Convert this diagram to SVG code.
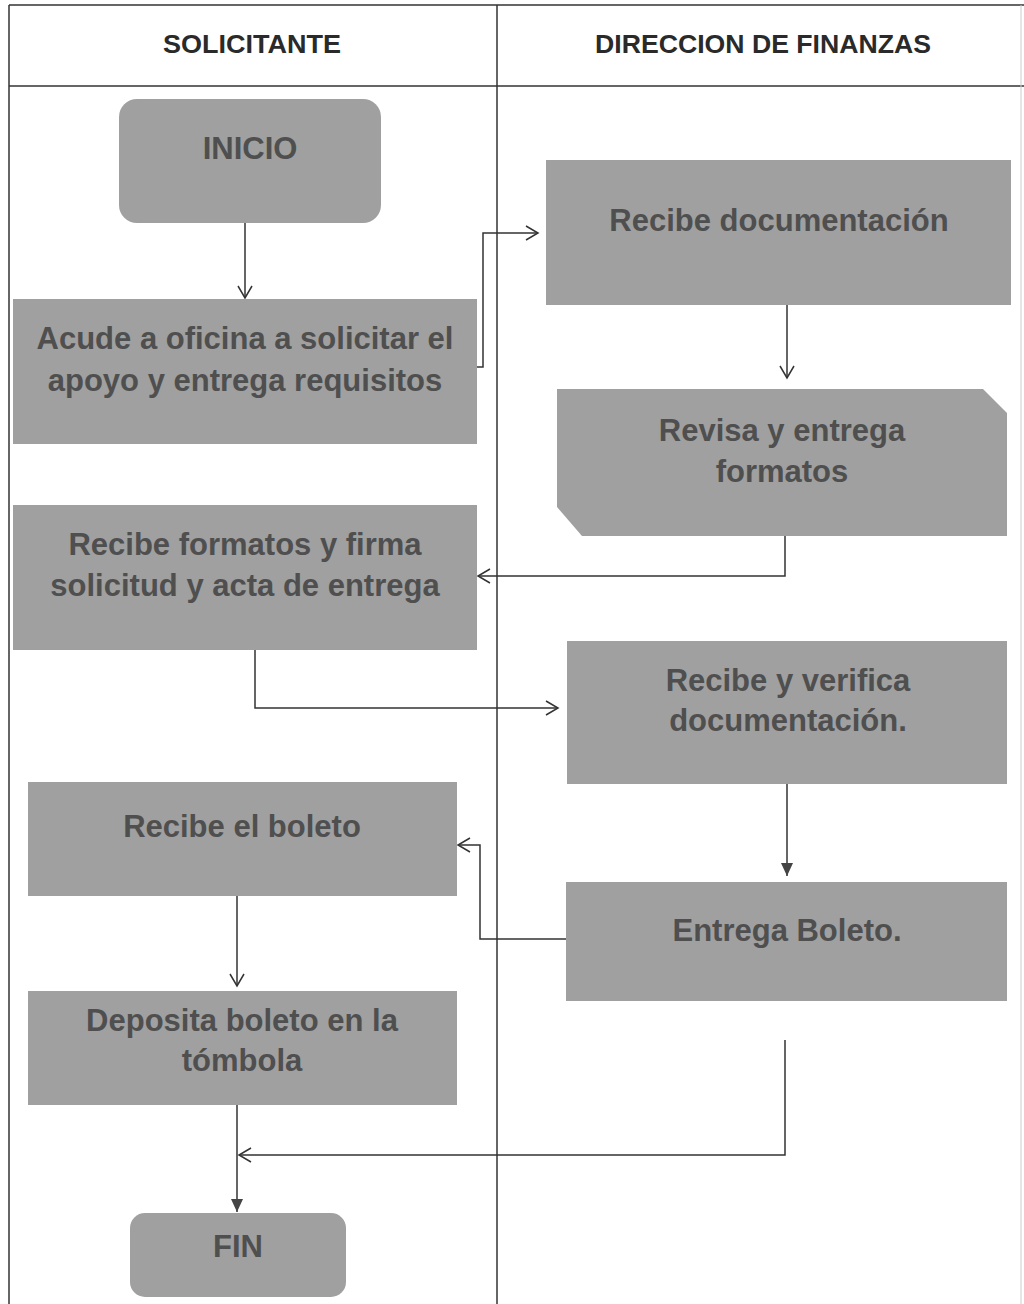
<svg xmlns="http://www.w3.org/2000/svg" width="1024" height="1304" viewBox="0 0 1024 1304">
<defs>
<style>
.box{fill:#a0a0a0;}
.t{font-family:"Liberation Sans",Arial,sans-serif;font-weight:bold;font-size:31px;fill:#4f4f4f;text-anchor:middle;}
.h{font-family:"Liberation Sans",Arial,sans-serif;font-weight:bold;font-size:25px;fill:#2a2a2a;text-anchor:middle;}
.grid{stroke:#333333;stroke-width:1.5;fill:none;}
.c{stroke:#333333;stroke-width:1.5;fill:none;}
</style>
<marker id="open" markerWidth="16" markerHeight="16" refX="14" refY="8" orient="auto" markerUnits="userSpaceOnUse">
<path d="M2,1 L14,8 L2,15" fill="none" stroke="#333333" stroke-width="1.5"/>
</marker>
<marker id="fill" markerWidth="16" markerHeight="16" refX="13" refY="7" orient="auto" markerUnits="userSpaceOnUse">
<path d="M0,1 L13,7 L0,13 Z" fill="#444444"/>
</marker>
</defs>
<rect width="1024" height="1304" fill="#ffffff"/>
<g id="lanes">
<line class="grid" x1="9" y1="5" x2="1024" y2="5" stroke="#666"/>
<line class="grid" x1="9" y1="86" x2="1024" y2="86"/>
<line class="grid" x1="9" y1="5" x2="9" y2="1304"/>
<line class="grid" x1="497" y1="5" x2="497" y2="1304"/>
<line x1="1021" y1="5" x2="1021" y2="1304" stroke="#cccccc" stroke-width="1"/>
<text class="h" x="252" y="53" textLength="178" lengthAdjust="spacingAndGlyphs">SOLICITANTE</text>
<text class="h" x="763" y="53" textLength="336" lengthAdjust="spacingAndGlyphs">DIRECCION DE FINANZAS</text>
</g>
<g id="connectors">
<line class="c" x1="245" y1="223" x2="245" y2="298" marker-end="url(#open)"/>
<polyline class="c" points="477,367 483,367 483,233 538,233" marker-end="url(#open)"/>
<line class="c" x1="787" y1="305" x2="787" y2="378" marker-end="url(#open)"/>
<polyline class="c" points="785,536 785,576 478,576" marker-end="url(#open)"/>
<polyline class="c" points="255,650 255,708 558,708" marker-end="url(#open)"/>
<line class="c" x1="787" y1="784" x2="787" y2="876" marker-end="url(#fill)"/>
<polyline class="c" points="566,939 480,939 480,845 458,845" marker-end="url(#open)"/>
<line class="c" x1="237" y1="896" x2="237" y2="986" marker-end="url(#open)"/>
<line class="c" x1="237" y1="1105" x2="237" y2="1212" marker-end="url(#fill)"/>
<polyline class="c" points="785,1040 785,1155 239,1155" marker-end="url(#open)"/>
</g>
<g id="inicio">
<rect class="box" x="119" y="99" width="262" height="124" rx="18"/>
<text class="t" x="250" y="159">INICIO</text>
</g>
<g id="acude">
<rect class="box" x="13" y="299" width="464" height="145"/>
<text class="t" x="245" y="349">Acude a oficina a solicitar el</text>
<text class="t" x="245" y="391">apoyo y entrega requisitos</text>
</g>
<g id="recibe-doc">
<rect class="box" x="546" y="160" width="465" height="145"/>
<text class="t" x="779" y="231">Recibe documentación</text>
</g>
<g id="revisa">
<path class="box" d="M557,389 L983,389 L1007,413 L1007,536 L582,536 L557,507 Z"/>
<text class="t" x="782" y="441">Revisa y entrega</text>
<text class="t" x="782" y="482">formatos</text>
</g>
<g id="recibe-formatos">
<rect class="box" x="13" y="505" width="464" height="145"/>
<text class="t" x="245" y="555">Recibe formatos y firma</text>
<text class="t" x="245" y="596">solicitud y acta de entrega</text>
</g>
<g id="recibe-verifica">
<rect class="box" x="567" y="641" width="440" height="143"/>
<text class="t" x="788" y="691">Recibe y verifica</text>
<text class="t" x="788" y="731">documentación.</text>
</g>
<g id="entrega-boleto">
<rect class="box" x="566" y="882" width="441" height="119"/>
<text class="t" x="787" y="941">Entrega Boleto.</text>
</g>
<g id="recibe-boleto">
<rect class="box" x="28" y="782" width="429" height="114"/>
<text class="t" x="242" y="837">Recibe el boleto</text>
</g>
<g id="deposita">
<rect class="box" x="28" y="991" width="429" height="114"/>
<text class="t" x="242" y="1031">Deposita boleto en la</text>
<text class="t" x="242" y="1071">tómbola</text>
</g>
<g id="fin">
<rect class="box" x="130" y="1213" width="216" height="84" rx="15"/>
<text class="t" x="238" y="1257">FIN</text>
</g>
</svg>
